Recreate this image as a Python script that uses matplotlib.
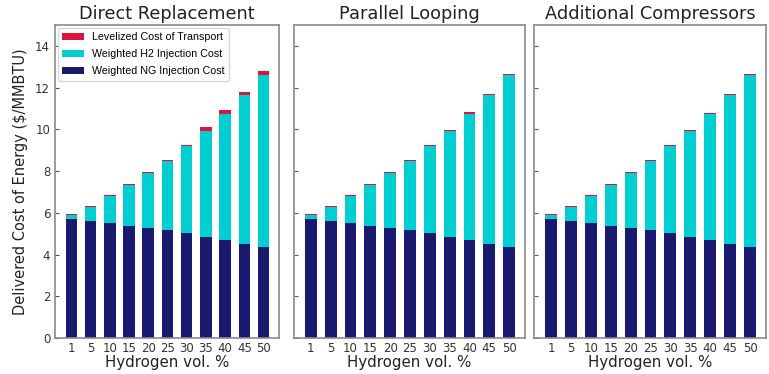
import numpy as np
import matplotlib.pyplot as plt

blends = ["1", "5", "10", "15", "20", "25", "30", "35", "40", "45", "50"]
titles = ["Direct Replacement", "Parallel Looping", "Additional Compressors"]

ng_cost = [5.68, 5.60, 5.50, 5.39, 5.28, 5.17, 5.02, 4.86, 4.72, 4.51, 4.34]
h2_top = [5.90, 6.27, 6.80, 7.33, 7.92, 8.50, 9.20, 9.92, 10.74, 11.63, 12.59]
h2_cost = [t - n for t, n in zip(h2_top, ng_cost)]

transport_dr = [0.03, 0.07, 0.05, 0.05, 0.05, 0.03, 0.05, 0.19, 0.17, 0.16, 0.21]
transport_pl = [0.02, 0.04, 0.04, 0.04, 0.04, 0.03, 0.03, 0.05, 0.07, 0.05, 0.05]
transport_ac = [0.02, 0.05, 0.04, 0.04, 0.04, 0.03, 0.03, 0.05, 0.06, 0.07, 0.07]
transport = [transport_dr, transport_pl, transport_ac]

fig = plt.figure(figsize=(7.69, 3.74), dpi=100)
lefts = [55, 294, 534]
rights = [279, 525, 766]
x = np.arange(len(blends))

for i in range(3):
    l = lefts[i] / 769
    w = (rights[i] - lefts[i]) / 769
    ax = fig.add_axes([l, 1 - 338 / 374, w, (338 - 25) / 374])
    bottom2 = np.array(ng_cost) + np.array(h2_cost)
    ax.bar(x, transport[i], 0.6, bottom=bottom2, color="#DC143C",
           label="Levelized Cost of Transport")
    ax.bar(x, h2_cost, 0.6, bottom=ng_cost, color="#00CED1",
           label="Weighted H2 Injection Cost")
    ax.bar(x, ng_cost, 0.6, color="#191970", label="Weighted NG Injection Cost")
    ax.set_ylim(0, 15)
    ax.set_xlim(-0.85, 10.8)
    ax.set_xticks(x)
    ax.set_xticklabels(blends, fontsize=8.5, color="#333333")
    ax.set_yticks(range(0, 15, 2))
    ax.tick_params(axis="x", length=0, pad=3)
    ax.tick_params(axis="y", direction="in", length=3, color="#555555",
                   labelsize=8.5, labelcolor="#333333")
    for s in ax.spines.values():
        s.set_color("#8a8a8a")
        s.set_linewidth(1.2)
    ax.set_title(titles[i], fontsize=12.8, pad=4, color="#222222")
    ax.set_xlabel("Hydrogen vol. %", fontsize=10.8, color="#222222", labelpad=0)
    if i == 0:
        ax.set_ylabel("Delivered Cost of Energy ($/MMBTU)", fontsize=10.5,
                      color="#222222", labelpad=5)
        ax.legend(loc="upper left", prop={"family": "Liberation Sans", "size": 7.7},
                  handlelength=2, handleheight=0.6, borderaxespad=0.3,
                  labelspacing=0.65)
    else:
        ax.set_yticklabels([])

fig.savefig("out.png", dpi=100)
